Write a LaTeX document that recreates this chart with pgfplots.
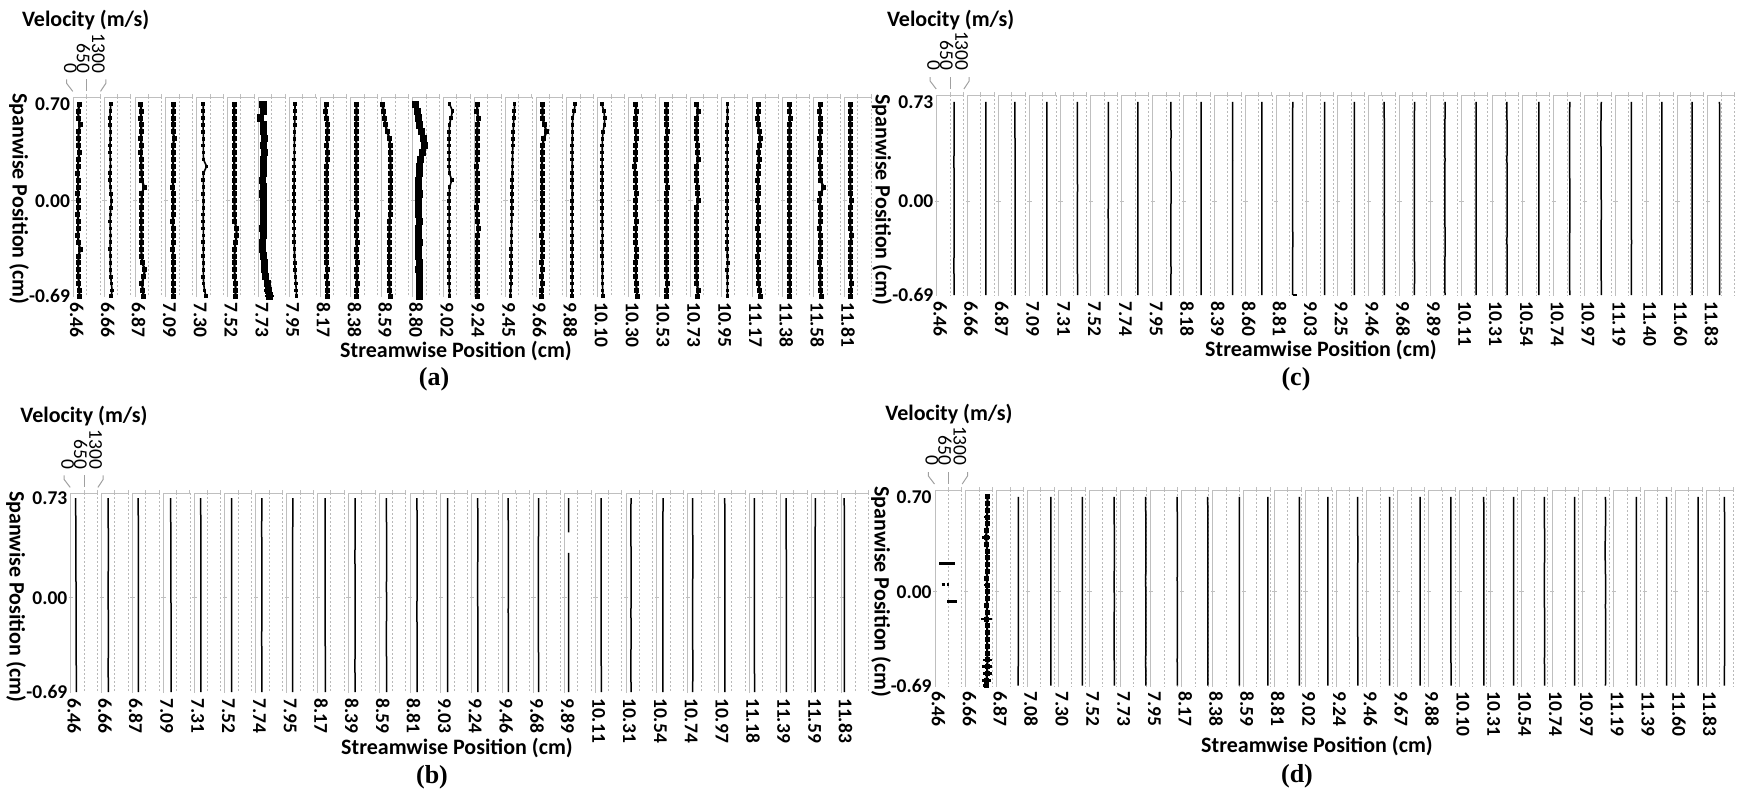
\documentclass[border=0pt]{standalone}
\usepackage{fontspec}
\setmainfont{Carlito}
\newfontfamily\capfont{Liberation Serif}
\usepackage{pgfplots}
\usepackage{pgfplotstable}
\pgfplotsset{compat=1.18}

\definecolor{framegray}{RGB}{191,191,191}
\definecolor{gridgray}{RGB}{185,185,185}
\definecolor{leadgray}{RGB}{160,160,160}

\newcommand\tickfont{\fontsize{9.75}{11}\selectfont}
\newcommand\xtickfont{\fontsize{9.75}{11}\selectfont\bfseries}
\newcommand\ytickfont{\fontsize{9.75}{11}\selectfont\bfseries}
\newcommand\titlefont{\fontsize{11}{13}\selectfont\bfseries}

% ---------------- panel (a): velocity (m/s) of each streamwise station ----------------
\pgfplotstableread{
y a1 a2 a3 a4 a5 a6 a7 a8 a9 a10 a11 a12 a13 a14 a15 a16 a17 a18 a19 a20 a21 a22 a23 a24 a25 a26 e7 e12
0.70 300 320 290 380 320 320 220 280 300 260 50 150 300 160 460 300 400 200 350 350 320 300 300 330 320 290 60 60
0.65 230 300 300 360 315 330 250 275 250 270 90 230 440 120 440 320 350 300 360 340 380 310 295 340 300 280 50 50
0.60 260 280 290 350 320 320 120 270 320 265 130 290 360 200 420 300 280 340 355 345 320 300 290 350 310 275 100 50
0.55 330 290 300 370 310 330 230 265 380 260 180 350 290 150 400 420 270 320 350 340 300 295 300 330 320 280 40 60
0.50 240 310 310 360 320 320 260 260 340 255 260 420 280 140 390 500 265 250 360 380 300 290 340 320 330 285 40 80
0.45 270 300 280 400 330 325 300 255 360 260 380 520 275 135 380 380 262 230 370 345 310 292 420 325 300 280 70 120
0.40 250 280 330 350 320 330 240 250 330 265 400 560 270 130 370 310 260 220 355 340 360 295 350 320 310 275 50 120
0.35 300 290 290 360 325 320 290 248 370 270 410 480 275 135 360 300 258 215 350 345 330 290 300 325 320 280 60 90
0.30 240 300 310 350 330 330 230 245 340 260 420 400 280 130 355 295 260 214 340 360 380 292 360 320 300 285 50 60
0.25 230 310 300 355 480 320 260 240 320 255 425 340 270 128 350 290 262 214 280 350 310 295 300 325 310 280 40 50
0.20 220 290 320 360 330 325 230 238 330 260 430 320 290 130 345 292 260 215 330 345 300 290 295 320 320 275 40 40
0.15 240 280 340 350 320 330 210 235 310 265 435 300 400 132 340 295 258 214 350 340 305 292 290 315 330 280 40 40
0.10 230 300 440 345 330 320 240 232 320 260 430 290 300 130 335 290 260 216 355 380 360 295 300 320 480 285 50 40
0.05 220 320 330 350 320 330 220 230 330 270 430 310 280 135 330 292 262 214 360 345 350 290 295 325 330 290 40 50
0.00 240 360 320 360 330 340 230 228 320 265 425 300 275 130 325 295 260 215 355 340 380 292 290 320 300 320 40 40
-0.05 230 320 310 355 325 335 250 228 310 260 420 280 270 128 320 290 258 214 350 345 310 295 295 315 310 285 50 60
-0.10 220 300 300 350 320 340 230 230 320 320 400 300 275 130 318 292 256 216 355 360 300 290 300 310 330 280 40 90
-0.15 240 290 310 345 315 360 260 232 330 280 380 330 280 140 315 295 255 218 360 350 305 292 295 320 320 275 50 120
-0.20 230 300 300 355 320 420 220 235 320 255 370 290 275 200 310 290 258 220 350 345 310 295 290 325 300 270 40 60
-0.25 220 310 320 360 325 450 230 240 310 260 365 300 270 150 305 288 260 222 355 340 300 290 295 330 310 360 50 40
-0.30 250 300 310 350 320 380 200 245 320 300 360 310 275 135 300 290 258 220 350 345 310 292 300 320 330 285 50 50
-0.35 330 290 300 345 330 350 210 250 330 270 360 290 280 130 295 292 256 218 360 350 300 295 295 325 320 280 60 40
-0.40 260 300 320 355 320 340 250 260 310 260 355 300 275 132 290 290 255 220 370 345 305 300 290 330 310 290 100 60
-0.45 240 310 360 360 330 330 280 270 320 310 360 320 270 130 285 288 254 222 355 340 310 320 295 325 300 285 130 50
-0.50 230 300 480 350 325 340 300 285 340 280 350 310 275 135 280 290 256 224 350 345 300 295 300 320 320 280 150 80
-0.55 250 320 420 355 320 350 350 300 330 265 355 340 280 130 275 285 255 226 355 350 310 300 295 330 330 300 170 110
-0.60 270 350 340 350 340 380 430 320 350 320 360 330 275 140 290 290 258 228 360 370 320 305 320 340 310 320 180 110
-0.65 290 390 380 360 380 400 480 340 340 270 380 320 285 145 260 280 250 240 400 360 380 300 380 330 340 300 200 80
-0.69 300 340 420 370 450 380 540 350 360 290 420 330 300 150 250 285 248 250 420 350 340 310 400 330 360 310 220 70
}\tabA

% ---------------- panel (b) ----------------
\pgfplotstableread{
y b1 b2 b3 b4 b5 b6 b7 b8 b9 b10 b11 b12 b13 b14 b15 b16 b18 b19 b20 b21 b22 b23 b24 b25 b26
0.73 240 320 280 360 320 320 292 300 368 330 350 336 326 290 270 250 290 243 300 240 300 236 280 210 110
0.50 250 326 288 366 326 324 288 296 372 326 356 340 322 294 276 246 292 240 296 244 304 240 288 200 114
0.30 255 330 292 370 330 330 292 290 376 322 360 344 326 292 280 242 296 244 292 248 308 244 292 196 112
0.10 258 322 296 374 324 326 296 292 374 326 354 340 330 288 276 244 292 246 290 244 310 246 296 194 116
-0.10 262 326 292 378 326 322 292 288 372 330 356 336 326 292 274 240 288 242 292 240 306 244 294 196 114
-0.30 265 330 290 380 328 326 288 292 376 326 352 340 322 296 278 244 292 244 288 244 308 242 292 194 112
-0.50 270 324 294 384 326 330 292 296 378 322 356 344 326 292 276 246 296 240 292 246 312 246 296 190 116
-0.69 275 328 296 388 330 328 300 292 380 326 360 340 330 296 280 248 300 244 296 244 310 250 300 192 118
}\tabB

% ---------------- panel (c) ----------------
\pgfplotstableread{
y c1 c2 c3 c4 c5 c6 c7 c8 c9 c10 c11 c12 c13 c14 c15 c16 c17 c18 c19 c20 c21 c22 c23 c24 c25 c26
0.73 850 885 800 855 840 845 775 888 855 885 805 812 862 806 758 732 716 732 726 775 780 812 776 758 732 560
0.50 845 890 806 860 845 842 780 892 860 890 812 808 858 810 762 728 712 728 730 778 776 790 780 762 728 566
0.30 840 892 810 856 842 846 778 890 862 894 808 810 860 812 766 730 714 730 728 780 778 808 778 760 730 570
0.10 843 888 812 858 846 843 782 894 858 890 810 806 856 808 762 726 710 732 732 776 780 810 774 764 726 566
-0.10 846 891 808 862 843 840 776 890 860 892 814 810 860 810 760 730 712 728 730 778 782 812 778 762 728 564
-0.30 842 894 810 858 840 845 778 888 856 888 810 812 858 812 764 728 716 726 728 782 778 806 782 758 732 568
-0.50 840 890 814 860 845 842 780 892 858 890 808 808 862 808 762 732 712 730 732 778 776 810 778 762 730 566
-0.69 845 892 812 862 848 846 776 890 860 892 812 810 860 806 766 730 714 728 730 780 780 812 780 760 728 572
}\tabC

% ---------------- panel (d) ----------------
\pgfplotstableread{
y d3 d4 d5 d6 d7 d8 d9 d10 d11 d12 d13 d14 d15 d16 d17 d18 d19 d20 d21 d22 d23 d24 d25 d26
0.70 1050 1130 1160 1210 1245 1276 1260 1294 1180 1212 1100 1050 1098 1082 1082 1180 1130 1130 1098 1100 1098 1066 1100 880
0.50 1053 1134 1166 1215 1248 1280 1264 1296 1184 1215 1102 1053 1102 1085 1085 1183 1134 1134 1102 1102 1102 1069 1102 891
0.30 1056 1138 1170 1218 1250 1282 1266 1298 1186 1218 1106 1056 1104 1088 1088 1186 1138 1136 1104 1080 1104 1072 1104 896
0.10 1050 1134 1166 1214 1246 1278 1262 1296 1182 1214 1102 1052 1100 1084 1086 1182 1134 1132 1100 1104 1100 1068 1100 890
-0.10 1053 1130 1162 1216 1248 1280 1264 1294 1184 1216 1098 1050 1104 1086 1084 1184 1132 1134 1102 1100 1102 1070 1102 894
-0.30 1056 1134 1166 1212 1250 1282 1266 1296 1186 1212 1102 1054 1102 1084 1086 1186 1136 1138 1104 1102 1104 1072 1104 892
-0.50 1050 1138 1170 1215 1246 1278 1262 1298 1182 1215 1106 1056 1098 1088 1088 1182 1134 1134 1100 1104 1100 1068 1100 888
-0.69 1040 1134 1166 1218 1248 1280 1264 1296 1184 1218 1102 1060 1102 1086 1090 1184 1138 1136 1102 1100 1102 1070 1102 880
}\tabD

\pgfplotstableread{
y v e
0.70 1060 120
0.65 1050 80
0.60 1040 60
0.55 1030 150
0.50 1040 60
0.45 1010 100
0.40 980 180
0.35 1020 70
0.30 1030 50
0.25 1040 60
0.20 1030 120
0.15 1040 60
0.10 1020 70
0.05 1030 150
0.00 1040 60
-0.05 1030 50
-0.10 1020 60
-0.15 1030 70
-0.20 1010 250
-0.25 1030 60
-0.30 1040 50
-0.35 1030 60
-0.40 1040 100
-0.45 1030 70
-0.50 1060 220
-0.55 1030 250
-0.60 1040 230
-0.65 1000 200
-0.69 980 150
}\tabDtwo

% x axis unit: 10 m/s; each strip spans 0..130 (0..1300 m/s), strips every 150 units
\pgfplotsset{
  panelaxis/.style={
    scale only axis, width=399pt, xmin=0, xmax=3880, ymin=-0.70,
    enlargelimits=false, clip=false,
    axis line style={draw=none}, tick style={draw=none}, major tick length=0pt,
    scaled x ticks=false, scaled y ticks=false,
    xtick={17,167,...,3767},
    xticklabel style={rotate=-90, anchor=west, font=\xtickfont, inner xsep=2.2pt},
    yticklabel style={font=\ytickfont, inner xsep=1.5pt},
  },
  pa/.style={black, line width=1.1pt, mark=square*, mark size=0.7pt},
  pathin/.style={black, line width=0.8pt, mark=square*, mark size=0.5pt},
  paheavy/.style={black, line width=1.4pt, mark=square*, mark size=1.1pt},
  pb/.style={black, line width=0.75pt, mark=none},
}

% strip frames: left solid line, top line, dotted lines at 650 and 1300
\newcommand{\stripframe}[2]{%
  \pgfplotsinvokeforeach{0,150,...,3750}{%
    \draw[framegray, line width=0.5pt] (axis cs:##1,#1) -- (axis cs:##1,-0.70);
    \draw[framegray, line width=0.5pt] (axis cs:##1,#1) -- ++(13.37pt,0pt);
    \draw[gridgray, line width=0.45pt, dash pattern=on 1pt off 1pt] (axis cs:##1,#1) ++(6.685pt,0pt) -- ++(0pt,-#2);
    \draw[gridgray, line width=0.45pt, dash pattern=on 1pt off 1pt] (axis cs:##1,#1) ++(13.37pt,0pt) -- ++(0pt,-#2);
    \draw[framegray, line width=0.5pt] (axis cs:##1,#1) ++(6.685pt,0pt) -- ++(0pt,1.5pt);
    \draw[framegray, line width=0.5pt] (axis cs:##1,#1) ++(13.37pt,0pt) -- ++(0pt,1.5pt);
    \draw[framegray, line width=0.5pt] (axis cs:##1,0) ++(-1pt,0pt) -- ++(2.2pt,0pt);
  }}

% velocity scale labels above the first strip (L, T in px from top-left)
\newcommand{\velticks}[2]{%
  \draw[leadgray, line width=0.5pt] (#1-6.6,-#2+18) -- (#1-6.6,-#2+14) -- (#1-0.5,-#2+6);
  \draw[leadgray, line width=0.5pt] (#1+13.4,-#2+18) -- (#1+13.4,-#2+6);
  \draw[leadgray, line width=0.5pt] (#1+32.5,-#2+18) -- (#1+32.5,-#2+14) -- (#1+27.2,-#2+6);
  \node[rotate=-90, anchor=east, inner sep=0pt, font=\tickfont] at (#1-3,-#2+24) {0};
  \node[rotate=-90, anchor=east, inner sep=0pt, font=\tickfont] at (#1+10,-#2+24) {650};
  \node[rotate=-90, anchor=east, inner sep=0pt, font=\tickfont] at (#1+25,-#2+24) {1300};
}

\begin{document}
\begin{tikzpicture}[x=0.5pt, y=0.5pt]
\useasboundingbox (0,0) rectangle (1737,-794);

% ======================= (a) =======================
\begin{axis}[panelaxis, at={(36.65pt,-148.7pt)}, anchor=south west, height=100pt, ymax=0.75,
  ytick={-0.69,0,0.70}, yticklabels={-0.69,0.00,0.70},
  xticklabels={6.46,6.66,6.87,7.09,7.30,7.52,7.73,7.95,8.17,8.38,8.59,8.80,9.02,9.24,9.45,9.66,9.88,10.10,10.30,10.53,10.73,10.95,11.17,11.38,11.58,11.81}]
\stripframe{0.75}{100pt}
\pgfplotsinvokeforeach{1,3,4,6,9,10,11,14,16,19,20,21,23,24,25,26}{
  \addplot[pa] table[x expr=\thisrow{a#1}/10+150*(#1-1), y=y] {\tabA};
}
\pgfplotsinvokeforeach{2,5,8,13,15,17,18,22}{
  \addplot[pathin] table[x expr=\thisrow{a#1}/10+150*(#1-1), y=y] {\tabA};
}
\addplot[paheavy, error bars/.cd, x dir=both, x explicit, error mark=none, error bar style={line width=1.4pt, black}]
  table[x expr=\thisrow{a7}/10+900, y=y, x error expr=\thisrow{e7}/10] {\tabA};
\addplot[paheavy, error bars/.cd, x dir=both, x explicit, error mark=none, error bar style={line width=1.4pt, black}]
  table[x expr=\thisrow{a12}/10+1650, y=y, x error expr=\thisrow{e12}/10] {\tabA};
\end{axis}
\velticks{73.3}{97.4}
\node[anchor=base west, font=\titlefont, inner sep=0pt] at (21.7,-26) {Velocity (m/s)};
\node[rotate=-90, font=\titlefont] at (19,-199) {Spanwise Position (cm)};
\node[font=\titlefont] at (456,-351) {Streamwise Position (cm)};
\node[font=\capfont\bfseries\fontsize{13}{15}\selectfont] at (434,-379) {(a)};

% ======================= (c) =======================
\begin{axis}[panelaxis, at={(468.35pt,-148.2pt)}, anchor=south west, height=100.7pt, ymax=0.78,
  ytick={-0.69,0,0.73}, yticklabels={-0.69,0.00,0.73},
  xticklabels={6.46,6.66,6.87,7.09,7.31,7.52,7.74,7.95,8.18,8.39,8.60,8.81,9.03,9.25,9.46,9.68,9.89,10.11,10.31,10.54,10.74,10.97,11.19,11.40,11.60,11.83}]
\stripframe{0.78}{100.7pt}
\pgfplotsinvokeforeach{1,2,3,4,5,6,7,8,9,10,11,12,13,14,15,16,17,18,19,20,21,22,23,24,25,26}{
  \addplot[pb] table[x expr=\thisrow{c#1}/10+150*(#1-1), y=y] {\tabC};
}
\addplot[black, line width=1.1pt, x filter/.expression={x/10+1650}] coordinates {(810,-0.69) (1030,-0.69)};
\end{axis}
\velticks{936.7}{95}
\node[anchor=base west, font=\titlefont, inner sep=0pt] at (886.7,-26) {Velocity (m/s)};
\node[rotate=-90, font=\titlefont] at (882,-200) {Spanwise Position (cm)};
\node[font=\titlefont] at (1321,-350) {Streamwise Position (cm)};
\node[font=\capfont\bfseries\fontsize{13}{15}\selectfont] at (1296,-379) {(c)};

% ======================= (b) =======================
\begin{axis}[panelaxis, at={(35.35pt,-346.7pt)}, anchor=south west, height=100pt, ymax=0.765,
  ytick={-0.69,0,0.73}, yticklabels={-0.69,0.00,0.73},
  xticklabels={6.46,6.66,6.87,7.09,7.31,7.52,7.74,7.95,8.17,8.39,8.59,8.81,9.03,9.24,9.46,9.68,9.89,10.11,10.31,10.54,10.74,10.97,11.18,11.39,11.59,11.83}]
\stripframe{0.765}{100pt}
\pgfplotsinvokeforeach{1,2,3,4,5,6,7,8,9,10,11,12,13,14,15,16,18,19,20,21,22,23,24,25,26}{
  \addplot[pb] table[x expr=\thisrow{b#1}/10+150*(#1-1), y=y] {\tabB};
}
\addplot[pb, unbounded coords=jump, x filter/.expression={x/10+2400}] coordinates
  {(205,0.73) (208,0.60) (210,0.48) (210,nan) (212,0.33) (210,0.10) (212,-0.10) (214,-0.30) (212,-0.50) (214,-0.69)};
\end{axis}
\velticks{70.7}{493.4}
\node[anchor=base west, font=\titlefont, inner sep=0pt] at (20,-422.7) {Velocity (m/s)};
\node[rotate=-90, font=\titlefont] at (16,-596.7) {Spanwise Position (cm)};
\node[font=\titlefont] at (457,-748) {Streamwise Position (cm)};
\node[font=\capfont\bfseries\fontsize{13}{15}\selectfont] at (432,-777) {(b)};

% ======================= (d) =======================
\begin{axis}[panelaxis, at={(467.5pt,-343.5pt)}, anchor=south west, height=98.5pt, ymax=0.75,
  ytick={-0.69,0,0.70}, yticklabels={-0.69,0.00,0.70},
  xticklabels={6.46,6.66,6.87,7.08,7.30,7.52,7.73,7.95,8.17,8.38,8.59,8.81,9.02,9.24,9.46,9.67,9.88,10.10,10.31,10.54,10.74,10.97,11.19,11.39,11.60,11.83}]
\stripframe{0.75}{98.5pt}
\addplot[black, line width=1.5pt, unbounded coords=jump, x filter/.expression={x/10}] coordinates
  {(210,0.212) (972,0.212) (500,nan) (324,0.052) (486,0.052) (500,nan) (600,0.052) (697,0.052) (500,nan) (600,-0.070) (1053,-0.070)};
\addplot[pa, error bars/.cd, x dir=both, x explicit, error mark=none, error bar style={line width=1.3pt, black}]
  table[x expr=\thisrow{v}/10+150, y=y, x error expr=\thisrow{e}/10] {\tabDtwo};
\pgfplotsinvokeforeach{3,4,5,6,7,8,9,10,11,12,13,14,15,16,17,18,19,20,21,22,23,24,25,26}{
  \addplot[pb] table[x expr=\thisrow{d#1}/10+150*(#1-1), y=y] {\tabD};
}
\end{axis}
\velticks{935}{490}
\node[anchor=base west, font=\titlefont, inner sep=0pt] at (885,-420) {Velocity (m/s)};
\node[rotate=-90, font=\titlefont] at (881,-592) {Spanwise Position (cm)};
\node[font=\titlefont] at (1317,-746) {Streamwise Position (cm)};
\node[font=\capfont\bfseries\fontsize{13}{15}\selectfont] at (1297,-776) {(d)};

\end{tikzpicture}
\end{document}
